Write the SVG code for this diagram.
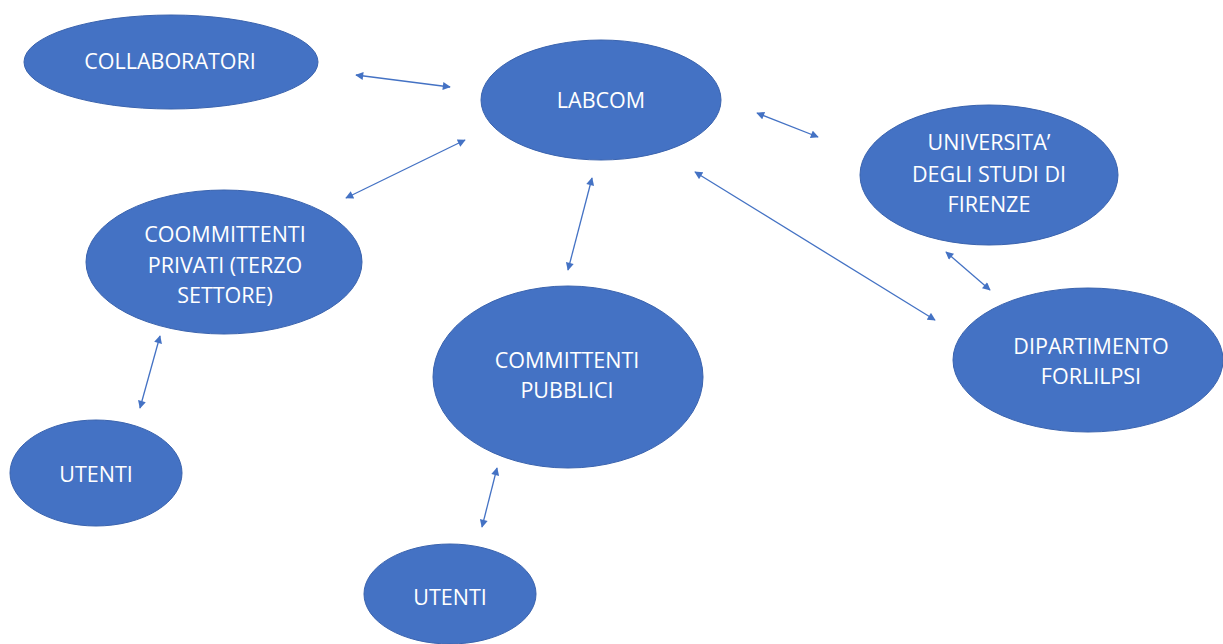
<svg xmlns="http://www.w3.org/2000/svg" width="1223" height="644" viewBox="0 0 1223 644">
<defs>
<style>
.n ellipse{fill:#4472C4;stroke:#3A63AE;stroke-width:1}
.n text{fill:#ffffff;font-family:"Open Sans","Liberation Sans",sans-serif;font-size:21.5px;text-anchor:middle}
.c line{stroke:#4472C4;stroke-width:1.3;marker-start:url(#ah);marker-end:url(#ah)}
</style>
<marker id="ah" viewBox="0 0 10 10" refX="9" refY="5" markerWidth="9" markerHeight="8" markerUnits="userSpaceOnUse" orient="auto-start-reverse">
<path d="M0,0 L10,5 L0,10 z" fill="#4472C4"/>
</marker>
</defs>
<rect width="1223" height="644" fill="#ffffff"/>
<g id="collaboratori" class="n"><ellipse cx="171" cy="62" rx="147" ry="47"/><text x="170" y="69">COLLABORATORI</text></g>
<g id="labcom" class="n"><ellipse cx="601" cy="100" rx="120" ry="60"/><text x="601" y="108">LABCOM</text></g>
<g id="universita" class="n"><ellipse cx="989" cy="175" rx="129" ry="70"/><text x="989" y="150">UNIVERSITA’</text><text x="989" y="182">DEGLI STUDI DI</text><text x="989" y="212">FIRENZE</text></g>
<g id="committenti-privati" class="n"><ellipse cx="224" cy="262" rx="138" ry="72"/><text x="225" y="242">COOMMITTENTI</text><text x="225" y="273">PRIVATI (TERZO</text><text x="225" y="303">SETTORE)</text></g>
<g id="committenti-pubblici" class="n"><ellipse cx="568" cy="377" rx="135" ry="91"/><text x="567" y="368">COMMITTENTI</text><text x="567" y="398">PUBBLICI</text></g>
<g id="dipartimento" class="n"><ellipse cx="1088" cy="360" rx="135" ry="72"/><text x="1091" y="354">DIPARTIMENTO</text><text x="1091" y="384">FORLILPSI</text></g>
<g id="utenti-1" class="n"><ellipse cx="96" cy="473" rx="86" ry="53"/><text x="96" y="482">UTENTI</text></g>
<g id="utenti-2" class="n"><ellipse cx="450" cy="594" rx="86" ry="50"/><text x="450" y="605">UTENTI</text></g>
<g id="connectors" class="c">
<line x1="356" y1="75" x2="450" y2="87"/>
<line x1="465" y1="140" x2="346" y2="198"/>
<line x1="757" y1="113" x2="818" y2="137"/>
<line x1="592" y1="178" x2="568" y2="270"/>
<line x1="695" y1="172" x2="935" y2="320"/>
<line x1="946" y1="252" x2="990" y2="290"/>
<line x1="160" y1="336" x2="140" y2="408"/>
<line x1="497" y1="468" x2="482" y2="527"/>
</g>
</svg>
